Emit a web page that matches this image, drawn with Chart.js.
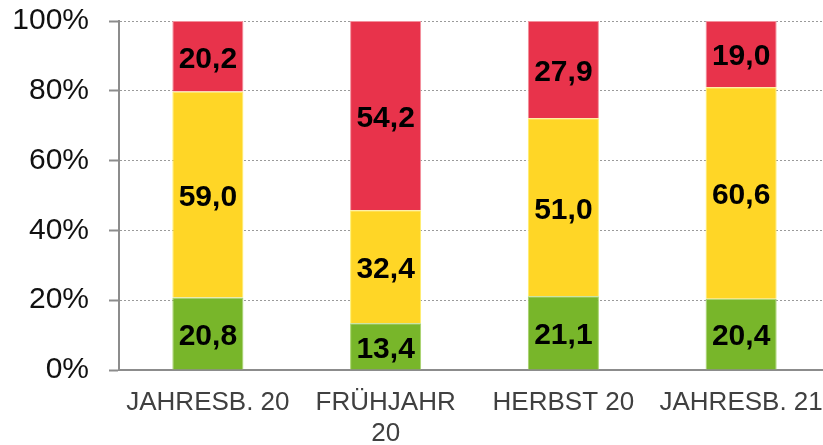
<!DOCTYPE html>
<html>
<head>
<meta charset="utf-8">
<script src="https://cdn.jsdelivr.net/npm/chart.js@4/dist/chart.umd.min.js"></script>
<style>
  html, body { margin: 0; padding: 0; background: #fff; overflow: hidden; }
  #wrap { position: absolute; left: 0; top: 0; width: 830px; height: 445px; }
</style>
</head>
<body>
<div id="wrap"><canvas id="chart"></canvas></div>
<script>
const categories = ['JAHRESB. 20', ['FRÜHJAHR', '20'], 'HERBST 20', 'JAHRESB. 21'];
const greenValues = [20.8, 13.4, 21.1, 20.4];
const yellowValues = [59.0, 32.4, 51.0, 60.6];
const redValues = [20.2, 54.2, 27.9, 19.0];
const yTicks = [0, 20, 40, 60, 80, 100];

// draws the numbers in the middle of each segment
const segmentLabels = {
    id: 'segmentLabels',
    afterDatasetsDraw(chart) {
        const ctx = chart.ctx;
        ctx.save();
        ctx.font = 'bold 30px "Liberation Sans", Arial, sans-serif';
        ctx.fillStyle = '#000';
        ctx.textAlign = 'center';
        ctx.textBaseline = 'middle';
        chart.data.datasets.forEach((ds, i) => {
            chart.getDatasetMeta(i).data.forEach((bar, j) => {
                const txt = ds.data[j].toFixed(1).replace('.', ',');
                ctx.fillText(txt, bar.x, (bar.y + bar.base) / 2 + 3);
            });
        });
        ctx.restore();
    }
};

new Chart(document.getElementById('chart'), {
    type: 'bar',
    data: {
        labels: categories,
        datasets: [
            { data: greenValues, backgroundColor: '#78b62a', borderColor: '#a6d36a', borderWidth: 1 },
            { data: yellowValues, backgroundColor: '#ffd626', borderColor: '#fff06a', borderWidth: 1 },
            { data: redValues, backgroundColor: '#e8334b', borderColor: '#f3909c', borderWidth: 1 }
        ]
    },
    plugins: [segmentLabels],
    options: {
        responsive: true,
        maintainAspectRatio: false,
        animation: false,
        layout: { padding: 0 },
        datasets: { bar: { barPercentage: 0.4, categoryPercentage: 1 } },
        plugins: {
            legend: { display: false },
            tooltip: { enabled: false }
        },
        scales: {
            x: {
                stacked: true,
                grid: { display: false, tickLength: 0 },
                border: { color: '#8c8c8c', width: 2 },
                ticks: {
                    color: '#404040',
                    padding: 17,
                    maxRotation: 0,
                    font: { family: '"Liberation Sans", Arial, sans-serif', size: 26, lineHeight: 1.2 }
                },
                afterFit(scale) {
                    scale.height = 75;
                    scale.paddingLeft = 0;
                    scale.paddingRight = 0;
                }
            },
            y: {
                stacked: true,
                min: 0,
                max: 100,
                afterBuildTicks(scale) { scale.ticks = yTicks.map(v => ({ value: v })); },
                grid: {
                    color: '#9a9a9a',
                    lineWidth: 1,
                    tickLength: 10,
                    tickColor: '#8c8c8c',
                    tickWidth: 2
                },
                border: { color: '#8c8c8c', width: 2, dash: [2, 2] },
                ticks: {
                    color: '#111',
                    padding: 20,
                    font: { family: '"Liberation Sans", Arial, sans-serif', size: 30 },
                    callback: v => v + '%'
                },
                afterFit(scale) {
                    scale.width = 119;
                    scale.paddingTop = 21;
                    scale.paddingBottom = 0;
                }
            }
        }
    }
});
</script>
</body>
</html>
